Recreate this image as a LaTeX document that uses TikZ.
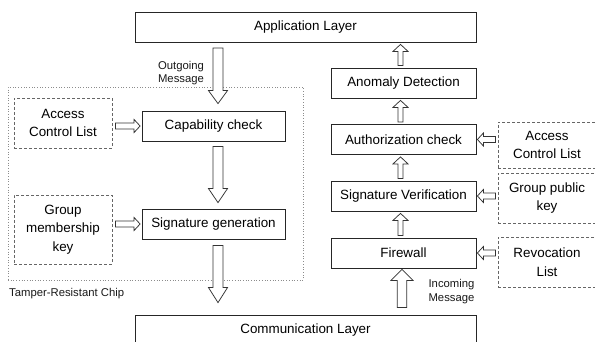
\documentclass[tikz,border=0pt]{standalone}
\usepackage{fontspec}
\setmainfont{Liberation Sans}
\usetikzlibrary{calc}
\tikzset{
  box/.style={draw=black!85, line width=0.8pt, fill=white, minimum height=30pt, inner sep=0pt,
    font=\fontsize{13.4}{18}\selectfont, text=black, align=center},
  dbox/.style={draw=black!60, dash pattern=on 3pt off 2pt, line width=0.8pt, inner sep=0pt,
    font=\fontsize{13.4}{18.5}\selectfont, text=black, align=center},
  chipbox/.style={draw=black!45, dotted, line width=0.7pt, inner sep=0pt},
  small/.style={font=\fontsize{11.3}{13.5}\selectfont, text=black!90, align=center, inner sep=0pt},
  blockarr/.style={draw=black!80, line width=0.75pt, fill=white, line join=miter},
}
% #1 from, #2 to, #3 start gap, #4 end gap, #5 half shaft, #6 half head, #7 head length
\newcommand{\blk}[7]{%
  \path ($#1!#3!#2$) coordinate (ba1) ($#2!#4!#1$) coordinate (ba2);
  \path ($(ba2)!#7!(ba1)$) coordinate (bah);
  \draw[blockarr] ($(ba1)!#5!90:(ba2)$) -- ($(bah)!#5!90:(ba2)$) -- ($(bah)!#6!90:(ba2)$) -- (ba2)
    -- ($(bah)!#6!-90:(ba2)$) -- ($(bah)!#5!-90:(ba2)$) -- ($(ba1)!#5!-90:(ba2)$) -- cycle;
}
\begin{document}
\begin{tikzpicture}[x=1pt,y=-1pt]
\useasboundingbox (0,0) rectangle (595,342);
\clip (0,0) rectangle (595,342);
\fill[white] (0,0) rectangle (595,342);

% tamper-resistant chip region
\node[chipbox, minimum width=295pt, minimum height=193pt] (chip) at (155.5,183.5) {};
\node[small, anchor=west] (chiplbl) at (9,294) {Tamper-Resistant Chip};

% layers
\node[box, minimum width=341pt] (app) at (305.5,27) {Application Layer};
\node[box, minimum width=341pt] (comm) at (305.5,330) {Communication Layer};

% left column
\node[box, minimum width=143pt] (cap) at (213.5,126) {Capability check};
\node[box, minimum width=143pt] (sig) at (213.5,224) {Signature generation};
\node[dbox, minimum width=98pt, minimum height=50pt] (aclL) at (63,123) {Access\\Control List};
\node[dbox, minimum width=98pt, minimum height=69pt] (gmk) at (63,229.5) {Group\\membership\\key};

% right column
\node[box, minimum width=145pt] (anom) at (403.5,83) {Anomaly Detection};
\node[box, minimum width=145pt] (auth) at (403.5,139.5) {Authorization check};
\node[box, minimum width=145pt] (sigv) at (403.5,196) {Signature Verification};
\node[box, minimum width=145pt] (fw) at (403.5,253) {Firewall};
\node[dbox, minimum width=98pt, minimum height=46pt] (aclR) at (547,145) {Access\\Control List};
\node[dbox, minimum width=98pt, minimum height=50pt] (gpk) at (547,198) {Group public\\key};
\node[dbox, minimum width=98pt, minimum height=50pt] (rl) at (547,262) {Revocation\\List};

% labels
\node[small] (outlbl) at (181,73) {Outgoing\\Message};
\node[small] (inlbl) at (451.5,291.5) {Incoming\\Message};

% helper coordinates
\coordinate (o1) at ([xshift=4.5pt]cap.north |- app.south);
\coordinate (o2) at ([xshift=4.5pt]cap.north);
\coordinate (c1) at ([xshift=4.5pt]cap.south);
\coordinate (c2) at ([xshift=4.5pt]sig.north);
\coordinate (s1) at ([xshift=4.5pt]sig.south);
\coordinate (s2) at ([xshift=4.5pt]sig.south |- comm.north);
\coordinate (i1) at ([xshift=-1.5pt]fw.south |- comm.north);
\coordinate (i2) at ([xshift=-1.5pt]fw.south);
\coordinate (r1) at ([xshift=-3pt]anom.north);
\coordinate (r2) at ([xshift=-3pt]anom.north |- app.south);
\coordinate (r3) at ([xshift=-3pt]auth.north);
\coordinate (r4) at ([xshift=-3pt]anom.south);
\coordinate (r5) at ([xshift=-3pt]sigv.north);
\coordinate (r6) at ([xshift=-3pt]auth.south);
\coordinate (r7) at ([xshift=-3pt]fw.north);
\coordinate (r8) at ([xshift=-3pt]sigv.south);

% left flow
\blk{(o1)}{(o2)}{5.5pt}{7pt}{5pt}{9.5pt}{13pt}
\blk{(c1)}{(c2)}{5pt}{6pt}{5pt}{9.5pt}{14pt}
\blk{(s1)}{(s2)}{6pt}{12pt}{5pt}{9.5pt}{15pt}
\blk{(aclL.east |- cap.west)}{(cap.west)}{3pt}{1.5pt}{3pt}{6.5pt}{6pt}
\blk{(gmk.east |- sig.west)}{(sig.west)}{3pt}{1.5pt}{3pt}{6.5pt}{6pt}

% right flow
\blk{(i1)}{(i2)}{7pt}{1pt}{4.7pt}{11pt}{11pt}
\blk{(r7)}{(r8)}{2pt}{2pt}{2.5pt}{7.5pt}{7pt}
\blk{(r5)}{(r6)}{2pt}{2pt}{2.5pt}{7.5pt}{7pt}
\blk{(r3)}{(r4)}{2pt}{2pt}{2.5pt}{7.5pt}{7pt}
\blk{(r1)}{(r2)}{2pt}{2pt}{2.5pt}{7.5pt}{7pt}
\blk{(aclR.west |- auth.east)}{(auth.east)}{2pt}{1pt}{3pt}{6.5pt}{6pt}
\blk{(gpk.west |- sigv.east)}{(sigv.east)}{2pt}{1pt}{3pt}{6.5pt}{6pt}
\blk{(rl.west |- fw.east)}{(fw.east)}{2pt}{1pt}{3pt}{6.5pt}{6pt}
\end{tikzpicture}
\end{document}
